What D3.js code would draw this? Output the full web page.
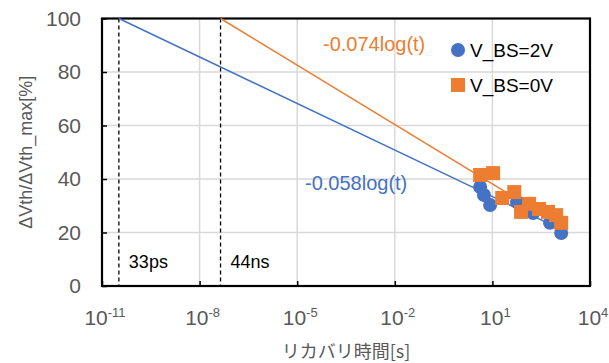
<!DOCTYPE html>
<html>
<head>
<meta charset="utf-8">
<script src="https://d3js.org/d3.v7.min.js"></script>
<style>
body { margin: 0; background: #fff; }
text { font-family: "Liberation Sans", Arial, sans-serif; }
</style>
</head>
<body>
<div id="chart"></div>
<script>
// data
var seriesNames = ["V_BS=2V", "V_BS=0V"];
var timeBS2 = [4.2, 5.5, 8.5, 57, 178, 590, 1300];
var valBS2  = [37.0, 34.0, 30.3, 31.4, 27.3, 23.6, 19.8];
var timeBS0 = [4.2, 10.5, 20, 47, 76, 134, 270, 510, 910, 1300];
var valBS0  = [41.5, 42.2, 32.9, 35.1, 27.7, 30.7, 28.8, 27.7, 26.5, 23.6];
// trend lines: start time (100%), end time, slope per decade
var trendStart = [3.3e-11, 4.4e-8];
var trendEnd   = [1300, 1300];
var trendSlope = [0.058, 0.074];
var trendLabels = ["-0.058log(t)", "-0.074log(t)"];
var markerLabels = ["33ps", "44ns"];
var xTickExp = [-11, -8, -5, -2, 1, 4];
var yTicks = [0, 20, 40, 60, 80, 100];

var blue = "#4472C4", orange = "#ED7D31";

var W = 609, H = 363;
var svg = d3.select("#chart").append("svg")
    .attr("width", W).attr("height", H);

var x = d3.scaleLog().domain([1e-11, 1e4]).range([102, 590]);
var y = d3.scaleLinear().domain([0, 100]).range([286, 18.5]);

// gridlines
svg.append("g").selectAll("line")
  .data(yTicks.slice(1, -1))
  .enter().append("line")
    .attr("x1", x.range()[0]).attr("x2", x.range()[1])
    .attr("y1", function(d) { return y(d); })
    .attr("y2", function(d) { return y(d); })
    .attr("stroke", "#d9d9d9").attr("stroke-width", 1.5);
svg.append("g").selectAll("line")
  .data(xTickExp.slice(1, -1))
  .enter().append("line")
    .attr("x1", function(d) { return x(Math.pow(10, d)); })
    .attr("x2", function(d) { return x(Math.pow(10, d)); })
    .attr("y1", y(0)).attr("y2", y(100))
    .attr("stroke", "#d9d9d9").attr("stroke-width", 1.5);

// dashed markers at 33ps / 44ns
trendStart.forEach(function(t, i) {
  svg.append("line")
    .attr("x1", x(t)).attr("x2", x(t))
    .attr("y1", y(100)).attr("y2", y(0))
    .attr("stroke", "#000").attr("stroke-width", 1.3)
    .attr("stroke-dasharray", "4,3");
  svg.append("text")
    .attr("x", x(t) + 10).attr("y", 268)
    .style("font-size", "18px").attr("fill", "#000")
    .text(markerLabels[i]);
});

// axes
var xAxis = d3.axisBottom(x)
    .tickValues(xTickExp.map(function(e) { return Math.pow(10, e); }))
    .tickSize(-5).tickFormat("");
svg.append("g").attr("transform", "translate(0," + y(0) + ")")
    .call(xAxis)
    .call(function(g) { g.select(".domain").remove(); g.selectAll("line").attr("stroke", "#000").attr("stroke-width", 1.5); });
var yAxis = d3.axisLeft(y).tickValues(yTicks).tickSize(-5).tickFormat("");
svg.append("g").attr("transform", "translate(" + x.range()[0] + ",0)")
    .call(yAxis)
    .call(function(g) { g.select(".domain").remove(); g.selectAll("line").attr("stroke", "#000").attr("stroke-width", 1.5); });

// plot border
svg.append("rect")
    .attr("x", x.range()[0]).attr("y", y(100))
    .attr("width", x.range()[1] - x.range()[0])
    .attr("height", y(0) - y(100))
    .attr("fill", "none").attr("stroke", "#000").attr("stroke-width", 2.2);

// tick labels
svg.append("g").selectAll("text")
  .data(yTicks)
  .enter().append("text")
    .attr("x", 81).attr("y", function(d) { return y(d); })
    .attr("dy", "0.35em").attr("text-anchor", "end")
    .style("font-size", "21px").attr("fill", "#595959")
    .text(function(d) { return d; });
var xl = svg.append("g").selectAll("text")
  .data(xTickExp)
  .enter().append("text")
    .attr("x", function(d) { return x(Math.pow(10, d)) + 3; })
    .attr("y", 325).attr("text-anchor", "middle")
    .style("font-size", "21px").attr("fill", "#595959");
xl.append("tspan").text("10");
xl.append("tspan").attr("dy", -8).style("font-size", "13px")
    .text(function(d) { return d; });

// axis titles
svg.append("text")
    .attr("transform", "translate(32," + ((y(0) + y(100)) / 2) + ") rotate(-90)")
    .attr("text-anchor", "middle")
    .style("font-size", "18px").attr("fill", "#595959")
    .text("ΔVth/ΔVth_max[%]");
svg.append("text")
    .attr("x", (x.range()[0] + x.range()[1]) / 2).attr("y", 358)
    .attr("text-anchor", "middle")
    .style("font-family", "'Noto Sans CJK JP', sans-serif")
    .style("font-size", "18px").attr("fill", "#595959")
    .text("リカバリ時間[s]");

// trend lines
var colors = [blue, orange];
trendStart.forEach(function(t0, i) {
  var t1 = trendEnd[i];
  var v1 = 100 - trendSlope[i] * 100 * (Math.log10(t1) - Math.log10(t0));
  svg.append("line")
    .attr("x1", x(t0)).attr("y1", y(100))
    .attr("x2", x(t1)).attr("y2", y(v1))
    .attr("stroke", colors[i]).attr("stroke-width", 1.5);
});

// markers
svg.append("g").selectAll("circle")
  .data(timeBS2)
  .enter().append("circle")
    .attr("cx", function(d) { return x(d); })
    .attr("cy", function(d, i) { return y(valBS2[i]); })
    .attr("r", 7).attr("fill", blue);
svg.append("g").selectAll("rect")
  .data(timeBS0)
  .enter().append("rect")
    .attr("x", function(d) { return x(d) - 7; })
    .attr("y", function(d, i) { return y(valBS0[i]) - 7; })
    .attr("width", 14).attr("height", 14).attr("fill", orange);

// trend labels
svg.append("text").attr("x", 305).attr("y", 190)
    .style("font-size", "20px").attr("fill", blue).text(trendLabels[0]);
svg.append("text").attr("x", 323).attr("y", 51)
    .style("font-size", "20px").attr("fill", orange).text(trendLabels[1]);

// legend
svg.append("circle").attr("cx", 458).attr("cy", 50).attr("r", 7).attr("fill", blue);
svg.append("text").attr("x", 470).attr("y", 57)
    .style("font-size", "19px").attr("fill", "#000").text(seriesNames[0]);
svg.append("rect").attr("x", 451).attr("y", 78).attr("width", 14).attr("height", 14).attr("fill", orange);
svg.append("text").attr("x", 470).attr("y", 92)
    .style("font-size", "19px").attr("fill", "#000").text(seriesNames[1]);
</script>
</body>
</html>
